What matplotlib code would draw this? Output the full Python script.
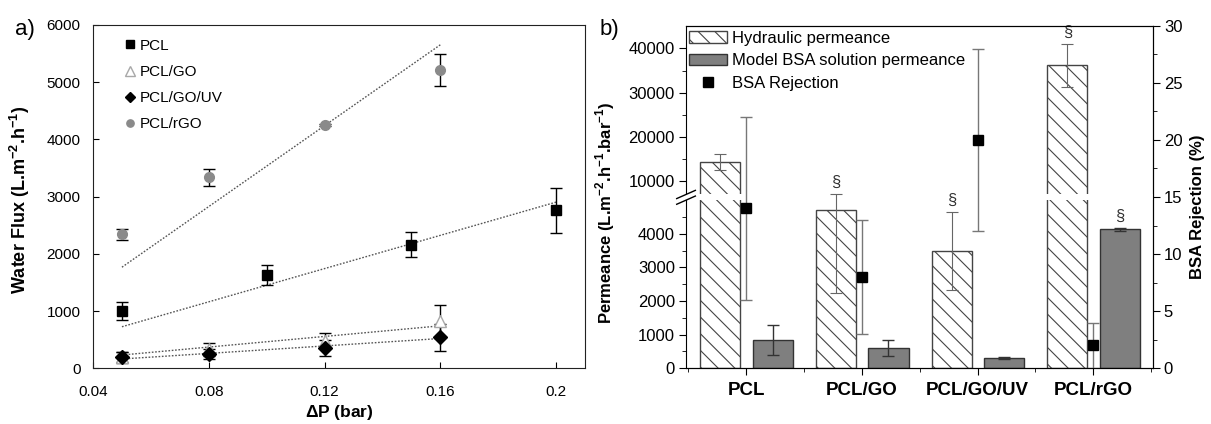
import numpy as np
import matplotlib
matplotlib.use("Agg")
import matplotlib.pyplot as plt
from matplotlib.ticker import FixedLocator

plt.rcParams['font.family'] = ['Liberation Sans', 'DejaVu Sans']
plt.rcParams['mathtext.fontset'] = 'custom'
plt.rcParams['mathtext.rm'] = 'Liberation Sans'
plt.rcParams['mathtext.bf'] = 'Liberation Sans:bold'
plt.rcParams['hatch.linewidth'] = 0.8

# ---- panel a data: water flux vs pressure
dp_pcl = [0.05, 0.10, 0.15, 0.20]
flux_pcl = [1000, 1630, 2160, 2760]
err_pcl = [160, 170, 220, 390]

dp_go = [0.05, 0.08, 0.12, 0.16]
flux_go = [200, 330, 480, 830]
err_go = [90, 120, 130, 280]

dp_uv = [0.05, 0.08, 0.12, 0.16]
flux_uv = [190, 250, 360, 540]
err_uv = [100, 80, 140, 230]

dp_rgo = [0.05, 0.08, 0.12, 0.16]
flux_rgo = [2340, 3340, 4250, 5210]
err_rgo = [100, 150, 20, 280]

# ---- panel b data: permeance and rejection
membranes = ['PCL', 'PCL/GO', 'PCL/GO/UV', 'PCL/rGO']
hyd_perm = [14400, 4700, 3500, 36200]
hyd_err = [1800, 2450, 1160, 4850]
bsa_perm = [850, 600, 310, 4130]
bsa_err = [450, 230, 20, 50]
rejection = [14, 8, 20, 2]
rej_err = [8, 5, 8, 2]

fig = plt.figure(figsize=(12.11, 4.24), dpi=100)

# ================= panel a
ax1 = fig.add_axes([0.0768, 0.1314, 0.4063, 0.8097])

series = [
    (dp_rgo, flux_rgo, err_rgo, 'PCL/rGO', dict(marker='o', ms=7, mfc='#8a8a8a', mec='#8a8a8a')),
    (dp_pcl, flux_pcl, err_pcl, 'PCL', dict(marker='s', ms=7, mfc='k', mec='k')),
    (dp_go, flux_go, err_go, 'PCL/GO', dict(marker='^', ms=9, mfc='white', mec='#a8a8a8', mew=1)),
    (dp_uv, flux_uv, err_uv, 'PCL/GO/UV', dict(marker='D', ms=7, mfc='k', mec='k')),
]
handles = {}
for x, y, e, name, st in series:
    x = np.array(x)
    y = np.array(y)
    # least squares line through origin
    k = np.sum(x * y) / np.sum(x * x)
    xl = np.array([x.min(), x.max()])
    ax1.plot(xl, k * xl, ls=(0, (1.2, 1.2)), color='#555555', lw=1, zorder=1)
    ax1.errorbar(x, y, yerr=e, fmt='none', ecolor='k', elinewidth=1, capsize=4, capthick=1, zorder=2)
    h, = ax1.plot(x, y, ls='none', zorder=3, **st)
    handles[name] = h

ax1.set_xlim(0.04, 0.21)
ax1.set_ylim(0, 6000)
ax1.set_xticks([0.04, 0.08, 0.12, 0.16, 0.2])
ax1.set_xticklabels(['0.04', '0.08', '0.12', '0.16', '0.2'])
ax1.set_yticks(range(0, 6001, 1000))
ax1.tick_params(direction='in', length=4, labelsize=11, top=False, right=False)
ax1.tick_params(axis='y', pad=9)
ax1.tick_params(axis='x', pad=12)
for s in ax1.spines.values():
    s.set_color('#222222')
ax1.set_xlabel(r'$\mathbf{\Delta}$P (bar)', fontsize=12.5, fontweight='bold')
ax1.xaxis.set_label_coords(0.5, -0.1)
ax1.set_ylabel(r'Water Flux (L.m$^{\mathbf{-2}}$.h$^{\mathbf{-1}}$)', fontsize=13, fontweight='bold')
ax1.yaxis.set_label_coords(-0.124, 0.49)
names = ['PCL', 'PCL/GO', 'PCL/GO/UV', 'PCL/rGO']
ax1.legend([handles[n] for n in names], names, loc='upper left', bbox_to_anchor=(0.063, 0.96),
           frameon=False, fontsize=11, handlelength=0.8, handletextpad=0.2, markerscale=0.75,
           labelspacing=0.8, borderpad=0, borderaxespad=0)
fig.text(0.0206, 0.93, 'a)', fontsize=16, ha='center', va='center')

# ================= panel b (broken y axis via piecewise scale)
Y0, Y1 = 5000, 7000
G, R = 0.0846, 0.1316


def fwd(v):
    v = np.asarray(v, dtype=float)
    return np.where(v <= Y0, v,
                    np.where(v <= Y1, Y0 + (v - Y0) * G,
                             Y0 + (Y1 - Y0) * G + (v - Y1) * R))


def inv(u):
    u = np.asarray(u, dtype=float)
    u1 = Y0 + (Y1 - Y0) * G
    return np.where(u <= Y0, u,
                    np.where(u <= u1, Y0 + (u - Y0) / G,
                             Y1 + (u - u1) / R))


ax2 = fig.add_axes([0.5665, 0.1314, 0.3854, 0.808])
ax2.set_yscale('function', functions=(fwd, inv))
ytop = 45140
ax2.set_ylim(0, ytop)
ax2.set_xlim(-0.52, 3.515)

xpos = np.arange(len(membranes))
w = 0.347
b1 = ax2.bar(xpos - 0.224, hyd_perm, w, facecolor='white', edgecolor='#444444',
             hatch='\\\\', linewidth=1, zorder=1)
b2 = ax2.bar(xpos + 0.23, bsa_perm, w, facecolor='#7f7f7f', edgecolor='#333333',
             linewidth=1, zorder=1)
ax2.errorbar(xpos - 0.224, hyd_perm, yerr=hyd_err, fmt='none', ecolor='#666666',
             elinewidth=0.8, capsize=4, capthick=0.8, zorder=3)
ax2.errorbar(xpos + 0.23, bsa_perm, yerr=bsa_err, fmt='none', ecolor='#333333',
             elinewidth=1, capsize=4, capthick=1, zorder=3)

# significance marks
for i in [1, 2, 3]:
    ax2.annotate('§', (xpos[i] - 0.224, hyd_perm[i] + hyd_err[i]), xytext=(0, 3),
                 textcoords='offset points', ha='center', va='bottom', fontsize=12, color='#333333')
ax2.annotate('§', (xpos[3] + 0.23, bsa_perm[3] + bsa_err[3]), xytext=(0, 3),
             textcoords='offset points', ha='center', va='bottom', fontsize=12, color='#333333')

# break gap
ax2.axhspan(Y0, Y1, xmin=-0.02, xmax=1.0, facecolor='white', edgecolor='none',
            zorder=2.6, clip_on=False)
tot = float(fwd(ytop))
for yv in (Y0, Y1):
    yf = float(fwd(yv)) / tot
    ax2.plot([-0.02, 0.02], [yf - 0.012, yf + 0.012], transform=ax2.transAxes,
             color='k', lw=1, clip_on=False, zorder=4)

ax2.yaxis.set_major_locator(FixedLocator([0, 1000, 2000, 3000, 4000, 10000, 20000, 30000, 40000]))
ax2.yaxis.set_minor_locator(FixedLocator([500, 1500, 2500, 3500, 4500, 15000, 25000, 35000]))
ax2.yaxis.set_major_formatter(matplotlib.ticker.FuncFormatter(lambda v, p: '%d' % v))
ax2.yaxis.set_minor_formatter(matplotlib.ticker.NullFormatter())
ax2.set_xticks(xpos)
ax2.set_xticklabels(membranes, fontsize=13.5, fontweight='bold')
ax2.xaxis.set_minor_locator(FixedLocator([-0.5, 0.5, 1.5, 2.5, 3.5]))
ax2.tick_params(which='major', direction='out', length=5, labelsize=12, pad=3)
ax2.tick_params(axis='x', which='major', labelsize=13.5, pad=5)
ax2.tick_params(which='minor', direction='out', length=3)
ax2.set_ylabel(r'Permeance (L.m$^{\mathbf{-2}}$.h$^{\mathbf{-1}}$.bar$^{\mathbf{-1}}$)',
               fontsize=12, fontweight='bold')
ax2.yaxis.set_label_coords(-0.148, 0.453)

tw = ax2.twinx()
tw.set_ylim(0, 30)
tw.spines['left'].set_visible(False)
tw.errorbar(xpos, rejection, yerr=rej_err, fmt='none', ecolor='#777777',
            elinewidth=1, capsize=4, capthick=1, zorder=2)
m, = tw.plot(xpos, rejection, ls='none', marker='s', ms=6.5, mfc='k', mec='k', zorder=3)
tw.set_yticks(range(0, 31, 5))
tw.yaxis.set_minor_locator(FixedLocator(np.arange(2.5, 30, 5)))
tw.tick_params(which='major', direction='out', length=5, labelsize=12, pad=3)
tw.tick_params(which='minor', direction='out', length=3)
tw.set_ylabel('BSA Rejection (%)', fontsize=12, fontweight='bold')
tw.yaxis.set_label_coords(1.08, 0.472)

tw.legend([b1, b2, m], ['Hydraulic permeance', 'Model BSA solution permeance', 'BSA Rejection'],
          loc='upper left', bbox_to_anchor=(0.006, 0.985), frameon=False, fontsize=12,
          handlelength=2.3, handletextpad=0.3, labelspacing=0.45, borderpad=0, borderaxespad=0)
fig.text(0.503, 0.93, 'b)', fontsize=16, ha='center', va='center')

fig.savefig('out.png', dpi=100)
